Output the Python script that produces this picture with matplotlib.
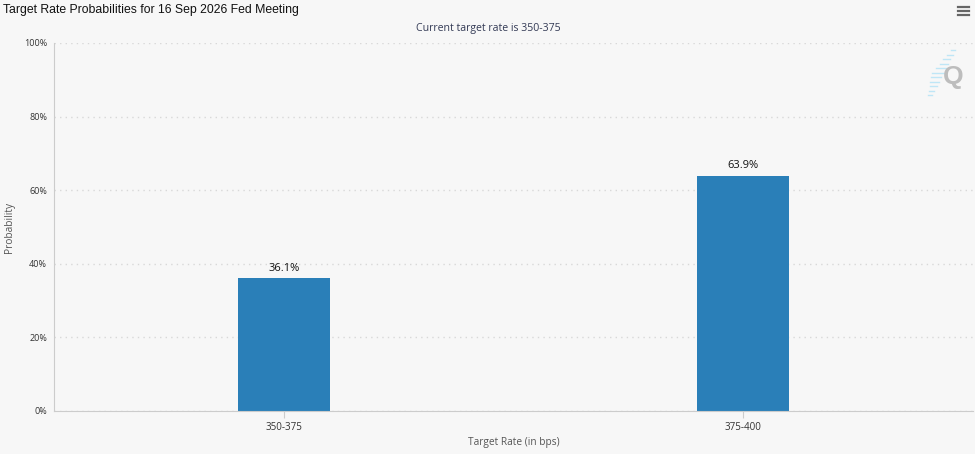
import matplotlib
matplotlib.use("Agg")
import matplotlib.pyplot as plt
from matplotlib.lines import Line2D

categories = ["350-375", "375-400"]
probs = [36.1, 63.9]
yticks = [0, 20, 40, 60, 80, 100]

BG = "#f7f7f7"
BAR_C = "#2a7fb8"
GRID_C = "#d8d8d8"
TEXT_C = "#333333"

fig = plt.figure(figsize=(9.75, 4.54), dpi=100, facecolor=BG)
ax = fig.add_axes([54 / 975, 43 / 454, 919 / 975, 368 / 454], facecolor=BG)

xs = list(range(len(categories)))
ax.bar(xs, probs, width=0.2, color=BAR_C, zorder=3)
for x, p in zip(xs, probs):
    ax.text(x, p + 1.2, f"{p:.1f}%", ha="center", va="bottom", fontsize=8,
            family="Open Sans", color="#111111", zorder=4)

ax.set_xlim(-0.5, 1.5)
ax.set_ylim(0, 100)
ax.set_yticks(yticks)
ax.set_yticklabels([f"{t}%" for t in yticks], fontsize=6.5, family="Open Sans", color=TEXT_C)
ax.set_xticks(xs)
ax.set_xticklabels(categories, fontsize=7, family="Open Sans", color=TEXT_C)
ax.tick_params(axis="y", length=0, pad=5)
ax.tick_params(axis="x", length=5, color="#cccccc", pad=3, direction="out")
ax.grid(axis="y", color=GRID_C, ls=(0, (1, 3)), lw=1, zorder=0)
for s in ("top", "right"):
    ax.spines[s].set_visible(False)
ax.spines["left"].set_color("#cccccc")
ax.spines["bottom"].set_color("#cccccc")
ax.spines["bottom"].set_zorder(5)

ax.set_xlabel("Target Rate (in bps)", fontsize=7.3, family="Open Sans", color="#555555", labelpad=3)
ax.set_ylabel("Probability", fontsize=7.3, family="Open Sans", color="#555555", labelpad=6)

fig.text(3 / 975, 1 - 10 / 454, "Target Rate Probabilities for 16 Sep 2026 Fed Meeting",
         fontsize=8.85, family="Liberation Sans", color="#111111", ha="left", va="center")
fig.text(488 / 975, 1 - 28 / 454, "Current target rate is 350-375",
         fontsize=7.6, family="Open Sans", color="#333a55", ha="center", va="center")

# menu icon
for yy in (7, 11, 15):
    fig.add_artist(Line2D([958 / 975, 969 / 975], [1 - yy / 454] * 2, color="#666666", lw=1.6))
# logo: slanted streaks behind a grey Q
for i in range(11):
    y0 = 50 + i * 4.5
    xr = 955 - i * 2.3
    fig.add_artist(Line2D([(xr - 4 - min(i, 10 - i) * 1.5) / 975, xr / 975],
                          [1 - y0 / 454] * 2, color="#bfe6f6", lw=1))
fig.text(953 / 975, 1 - 77 / 454, "Q", fontsize=19, family="Liberation Sans",
         fontweight="bold", color="#bdbdbd", ha="center", va="center")

fig.savefig("out.png", dpi=100, facecolor=BG)
